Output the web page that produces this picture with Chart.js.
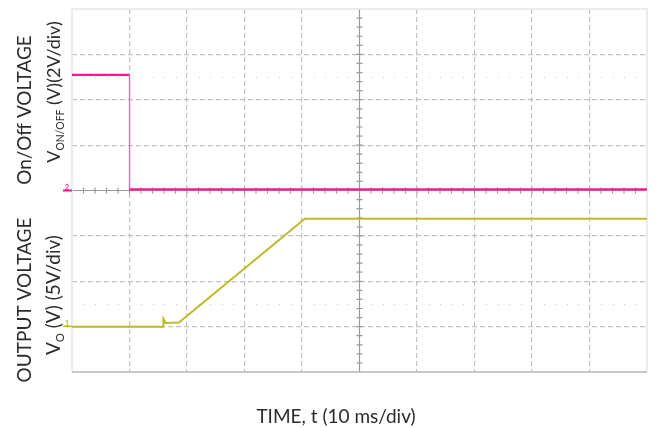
<!DOCTYPE html>
<html>
<head>
<meta charset="utf-8">
<script src="https://cdn.jsdelivr.net/npm/chart.js@4.4.1/dist/chart.umd.min.js"></script>
<style>
  html, body { margin: 0; padding: 0; background: #fff; }
  #wrap { width: 657px; height: 428px; }
  #scope { width: 657px; height: 428px; display: block; }
</style>
</head>
<body>
<div id="wrap"><canvas id="scope" width="657" height="428"></canvas></div>
<script>
(function () {
    'use strict';

    // time base: 10 ms/div, 10 divisions
    var timeTicks = [0, 10, 20, 30, 40, 50, 60, 70, 80, 90, 100];
    // vertical screen: 8 divisions, centre = 0
    var divTicks = [-4, -3, -2, -1, 0, 1, 2, 3, 4];

    // CH2 On/Off voltage (2 V/div, 0 V on centre line)
    var onOffTime = [0, 10, 10, 100];
    var onOffVolts = [5.1, 5.1, 0.05, 0.05];

    // CH1 output voltage (5 V/div, 0 V three divisions below centre)
    var outTime = [0, 15.9, 15.9, 16.3, 18.6, 40.5, 100];
    var outVolts = [0, 0, 0.85, 0.4, 0.45, 11.9, 11.9];

    var PINK = 'rgb(255, 24, 140)';
    var YELLOW = 'rgb(189, 187, 42)';
    var TEXT = '#2b2b2b';
    var FONT = 'Lato';

    function toPoints(xs, ys) {
        return xs.map(function (x, i) { return { x: x, y: ys[i] }; });
    }

    function drawRich(ctx, parts, size) {
        var total = 0;
        parts.forEach(function (p) {
            ctx.font = (p.sub ? size * 0.58 : size) + 'px ' + FONT;
            p.w = ctx.measureText(p.t).width;
            total += p.w;
        });
        var x = -total / 2;
        parts.forEach(function (p) {
            ctx.font = (p.sub ? size * 0.58 : size) + 'px ' + FONT;
            ctx.fillText(p.t, x, p.sub ? size * 0.22 : 0);
            x += p.w;
        });
    }

    var scopePlugin = {
        id: 'scopeScreen',
        beforeDatasetsDraw: function (chart) {
            var ctx = chart.ctx;
            var a = chart.chartArea;
            var xs = chart.scales.x;
            var ys = chart.scales.y;
            var cx = xs.getPixelForValue(50);
            var cy = ys.getPixelForValue(0);
            var v;
            ctx.save();

            // dotted marker rows
            ctx.fillStyle = '#c8c8c8';
            [2.5, -2.5].forEach(function (d) {
                var py = Math.round(ys.getPixelForValue(d));
                for (v = 2; v < 100; v += 2) {
                    if (v % 10 === 0) continue;
                    ctx.fillRect(Math.round(xs.getPixelForValue(v)), py, 1, 1);
                }
            });

            // centre cross with minor ticks
            ctx.strokeStyle = '#9a9a9a';
            ctx.lineWidth = 1.2;
            ctx.beginPath();
            ctx.moveTo(a.left, cy); ctx.lineTo(a.right, cy);
            ctx.moveTo(cx, a.top); ctx.lineTo(cx, a.bottom);
            for (v = 2; v < 100; v += 2) {
                var px = xs.getPixelForValue(v);
                ctx.moveTo(px, cy - 3); ctx.lineTo(px, cy + 3);
            }
            for (v = -3.8; v < 4; v += 0.2) {
                var py2 = ys.getPixelForValue(v);
                ctx.moveTo(cx - 3, py2); ctx.lineTo(cx + 3, py2);
            }
            ctx.stroke();

            // frame
            ctx.lineWidth = 1.5;
            ctx.strokeStyle = '#e6e6e6';
            ctx.beginPath();
            ctx.moveTo(a.left, a.bottom); ctx.lineTo(a.left, a.top);
            ctx.lineTo(a.right, a.top); ctx.lineTo(a.right, a.bottom);
            ctx.stroke();
            ctx.strokeStyle = '#b4b4b4';
            ctx.beginPath();
            ctx.moveTo(a.left, a.bottom); ctx.lineTo(a.right, a.bottom);
            ctx.stroke();
            ctx.restore();
        },
        afterDraw: function (chart) {
            var ctx = chart.ctx;
            var a = chart.chartArea;
            var ys = chart.scales.y;
            ctx.save();
            ctx.fillStyle = TEXT;
            ctx.textAlign = 'left';
            ctx.textBaseline = 'alphabetic';

            var titles = [
                { x: 31, y: 110, size: 19, parts: [{ t: 'On/Off VOLTAGE' }] },
                { x: 60, y: 92, size: 18, parts: [{ t: 'V' }, { t: 'ON/OFF', sub: true }, { t: ' (V)(2V/div)' }] },
                { x: 31, y: 300, size: 19, parts: [{ t: 'OUTPUT VOLTAGE' }] },
                { x: 60, y: 295, size: 19, parts: [{ t: 'V' }, { t: 'O', sub: true }, { t: ' (V) (5V/div)' }] }
            ];
            titles.forEach(function (tt) {
                ctx.save();
                ctx.translate(tt.x, tt.y);
                ctx.rotate(-Math.PI / 2);
                drawRich(ctx, tt.parts, tt.size);
                ctx.restore();
            });

            ctx.font = '19px ' + FONT;
            ctx.textAlign = 'center';
            ctx.fillText('TIME, t (10 ms/div)', 336, 423);

            // channel reference markers
            ctx.font = 'bold 7px ' + FONT;
            ctx.textAlign = 'right';
            ctx.textBaseline = 'middle';
            ctx.fillStyle = PINK;
            ctx.fillText('2', a.left - 3, ys.getPixelForValue(0) - 3);
            ctx.fillRect(a.left - 9, ys.getPixelForValue(0) - 1, 9, 2);
            ctx.fillStyle = YELLOW;
            ctx.fillText('1', a.left - 3, ys.getPixelForValue(-3) - 3);
            ctx.fillRect(a.left - 9, ys.getPixelForValue(-3) - 1, 9, 1.5);
            ctx.restore();
        }
    };

    function gridColor(edges) {
        return function (c) {
            var v = c.tick ? c.tick.value : null;
            return edges.indexOf(v) >= 0 ? 'rgba(0,0,0,0)' : '#c2c2c2';
        };
    }

    function isJump(c) {
        return c.p0.parsed.x === c.p1.parsed.x;
    }

    var ctx = document.getElementById('scope');
    var chart = new Chart(ctx, {
        type: 'line',
        data: {
            datasets: [{
                label: 'On/Off voltage',
                data: toPoints(onOffTime, onOffVolts),
                yAxisID: 'yOn',
                borderColor: PINK,
                borderWidth: 2.2,
                pointRadius: 0,
                tension: 0,
                segment: {
                    borderWidth: function (c) { return isJump(c) ? 1.3 : 2.2; },
                    borderColor: function (c) { return isJump(c) ? 'rgb(255, 90, 175)' : PINK; }
                }
            }, {
                label: 'Output voltage',
                data: toPoints(outTime, outVolts),
                yAxisID: 'yOut',
                borderColor: YELLOW,
                borderWidth: 2,
                pointRadius: 0,
                tension: 0
            }]
        },
        plugins: [scopePlugin],
        options: {
            responsive: false,
            animation: false,
            events: [],
            layout: { padding: { left: 72, right: 10, top: 9, bottom: 56 } },
            plugins: { legend: { display: false }, tooltip: { enabled: false } },
            scales: {
                x: {
                    type: 'linear',
                    min: 0,
                    max: 100,
                    afterBuildTicks: function (s) { s.ticks = timeTicks.map(function (v) { return { value: v }; }); },
                    ticks: { display: false },
                    grid: { color: gridColor([0, 50, 100]), lineWidth: 1.2, drawTicks: false },
                    border: { display: false, dash: [5, 3] }
                },
                y: {
                    min: -4,
                    max: 4,
                    afterBuildTicks: function (s) { s.ticks = divTicks.map(function (v) { return { value: v }; }); },
                    ticks: { display: false },
                    grid: { color: gridColor([-4, 0, 4]), lineWidth: 1.2, drawTicks: false },
                    border: { display: false, dash: [5, 3] }
                },
                yOn: { display: false, min: -8, max: 8 },
                yOut: { display: false, min: -5, max: 35 }
            }
        }
    });
})();
</script>
</body>
</html>
